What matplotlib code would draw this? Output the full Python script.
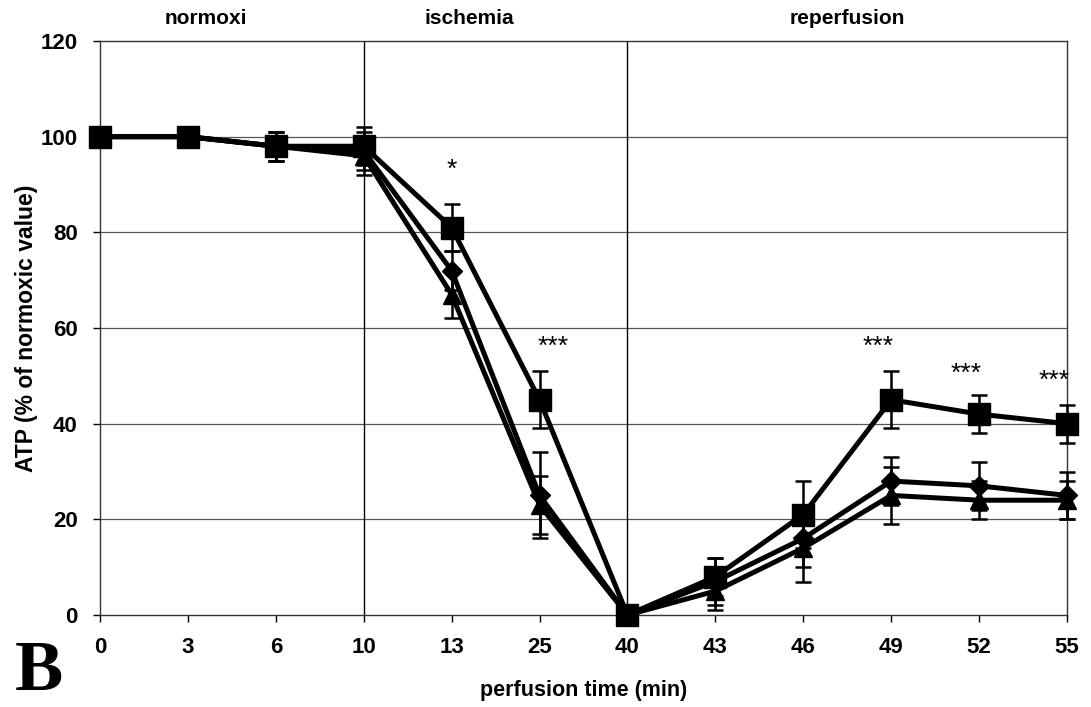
import matplotlib
matplotlib.use("Agg")
import matplotlib.pyplot as plt
import numpy as np

times = ["0", "3", "6", "10", "13", "25", "40", "43", "46", "49", "52", "55"]
square = [100, 100, 98, 98, 81, 45, 0, 8, 21, 45, 42, 40]
square_err = [0, 0, 3, 4, 5, 6, 0, 4, 7, 6, 4, 4]
diamond = [100, 100, 98, 97, 72, 25, 0, 7, 16, 28, 27, 25]
diamond_err = [0, 0, 3, 4, 4, 9, 0, 5, 6, 5, 5, 5]
triangle = [100, 100, 98, 96, 67, 23, 0, 5, 14, 25, 24, 24]
triangle_err = [0, 0, 3, 4, 5, 6, 0, 4, 7, 6, 4, 4]
phases = ["normoxi", "ischemia", "reperfusion"]
phase_pos = [1.2, 4.2, 8.5]
stars = ["*", "***", "***", "***", "***"]
star_x = [4.0, 5.15, 8.85, 9.85, 10.85]
star_y = [93.0, 56.0, 56.0, 50.5, 49.0]

plt.rcParams['font.family'] = ['Liberation Sans', 'DejaVu Sans']

fig = plt.figure(figsize=(10.91, 7.07), dpi=100)
ax = fig.add_axes([100/1091, 1-615/707, (1067-100)/1091, (615-41)/707])
x = np.arange(len(times))

for y in [20, 40, 60, 80, 100]:
    ax.axhline(y, color="#555555", lw=0.9, zorder=1)
for xv in [3, 6]:
    ax.axvline(xv, color="black", lw=1.0, zorder=1)

common = dict(color="black", lw=3.6, ecolor="black", elinewidth=1.8, capsize=5.5, capthick=1.8, clip_on=False, zorder=3)
ax.errorbar(x, triangle, yerr=triangle_err, marker="^", markersize=13, **common)
ax.errorbar(x, diamond, yerr=diamond_err, marker="D", markersize=10, **common)
ax.errorbar(x, square, yerr=square_err, marker="s", markersize=16.5, **common)

for s, sx, sy in zip(stars, star_x, star_y):
    ax.text(sx, sy, s, ha="center", va="center", fontsize=19, color="black")

for p, px in zip(phases, phase_pos):
    ax.text(px, 124.6, p, ha="center", va="center", fontsize=15, fontweight="bold",
            family=['Liberation Sans Narrow', 'Liberation Sans'])

ax.set_xlim(0, 11)
ax.set_ylim(0, 120)
ax.set_xticks(x)
ax.set_xticklabels(times, fontsize=16, fontweight="bold")
ax.set_yticks(range(0, 121, 20))
ax.set_yticklabels([str(v) for v in range(0, 121, 20)], fontsize=16, fontweight="bold")
ax.tick_params(axis="both", direction="out", length=5, width=1, pad=11)
for sp in ax.spines.values():
    sp.set_linewidth(1.0)
    sp.set_color("#333333")

ax.set_ylabel("ATP (% of normoxic value)", fontsize=16.5, fontweight="bold")
ax.yaxis.set_label_coords(-62/967, 0.5)
ax.set_xlabel("perfusion time (min)", fontsize=15.5, fontweight="bold", labelpad=16)

fig.text(15/1091, 0.003, "B", fontsize=52, fontweight="bold",
         family=['Liberation Serif', 'DejaVu Serif'], ha="left", va="bottom")

fig.savefig("out.png", dpi=100)
